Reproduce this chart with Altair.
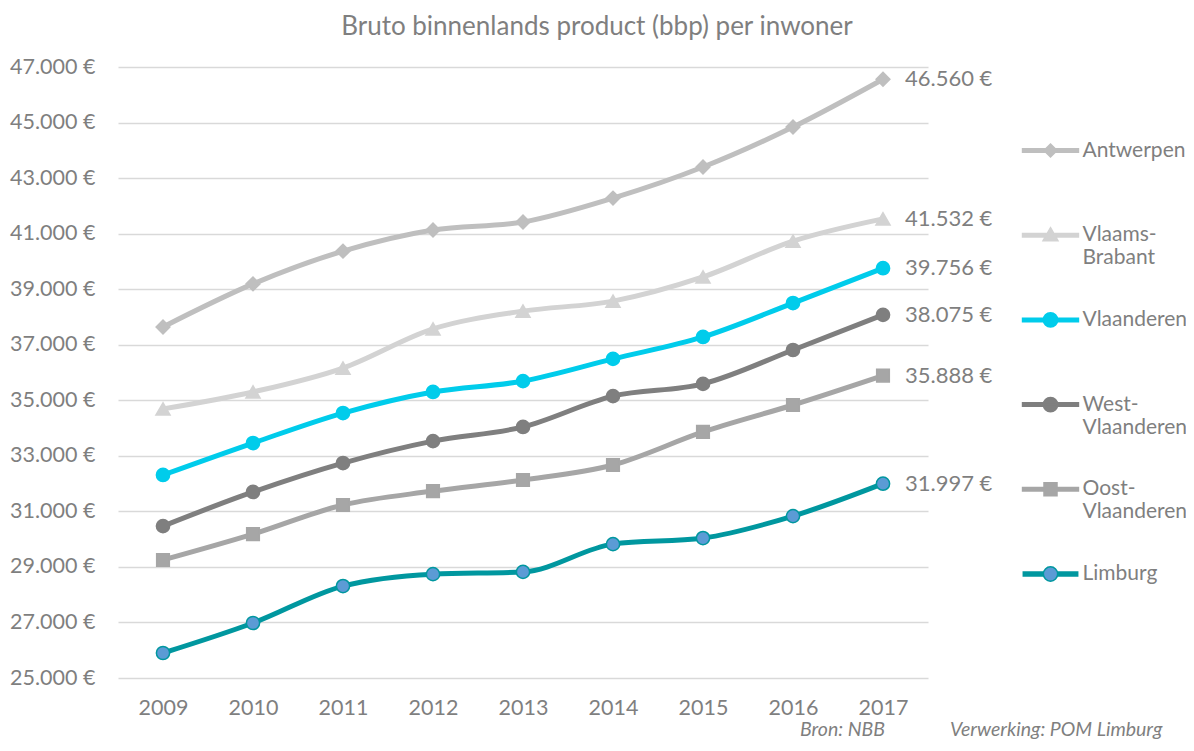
import altair as alt
import pandas as pd

years = ["2009", "2010", "2011", "2012", "2013", "2014", "2015", "2016", "2017"]
series = ["Antwerpen", "Vlaams-Brabant", "Vlaanderen", "West-Vlaanderen", "Oost-Vlaanderen", "Limburg"]

antwerpen = [37640, 39190, 40370, 41130, 41420, 42280, 43400, 44840, 46560]
vlaams_brabant = [34690, 35300, 36160, 37570, 38210, 38570, 39440, 40730, 41532]
vlaanderen = [32310, 33460, 34540, 35300, 35690, 36490, 37280, 38500, 39756]
west_vlaanderen = [30470, 31700, 32740, 33530, 34040, 35150, 35590, 36810, 38075]
oost_vlaanderen = [29250, 30180, 31230, 31730, 32130, 32670, 33860, 34830, 35888]
limburg = [25900, 26980, 28310, 28740, 28820, 29820, 30040, 30830, 31997]

y_ticks = [25000, 27000, 29000, 31000, 33000, 35000, 37000, 39000, 41000, 43000, 45000, 47000]

line_colors = ["#BFBFBF", "#D3D3D3", "#00CCEB", "#7F7F7F", "#A6A6A6", "#00979F"]
fill_colors = ["#BFBFBF", "#D3D3D3", "#00CCEB", "#7F7F7F", "#A6A6A6", "#5B9BD5"]

title_text = "Bruto binnenlands product (bbp) per inwoner"
source_text = "Bron: NBB"
processing_text = "Verwerking: POM Limburg"

values = [antwerpen, vlaams_brabant, vlaanderen, west_vlaanderen, oost_vlaanderen, limburg]
rows = []
for name, vals in zip(series, values):
    for yr, v in zip(years, vals):
        rows.append({"series": name, "year": yr, "value": v})
df = pd.DataFrame(rows)

TEXT = "#7F7F7F"
FONT = "Lato"

# legend symbols: line segment + marker (unit box -1..1 = 6.5px)
bar = "M-4.3,-0.27H4.3V0.27H-4.3Z"
diamond = bar + " M0,-1.0L1.0,0L0,1.0L-1.0,0Z"
triangle = bar + " M0,-1.15L1.15,0.85L-1.15,0.85Z"
circle = bar + " M1.1,0A1.1,1.1 0 1,1 -1.1,0A1.1,1.1 0 1,1 1.1,0Z"
square = bar + " M-1.0,-1.0H1.0V1.0H-1.0Z"
stacked = " ".join(
    f"M-4.3,{y}H-1.1 M1.1,{y}H4.3" for y in (-0.3, -0.15, 0, 0.15, 0.3)
)
circle_limburg = stacked + " M1.1,0A1.1,1.1 0 1,1 -1.1,0A1.1,1.1 0 1,1 1.1,0Z"
legend_paths = [diamond, triangle, circle, circle, square, circle_limburg]

stroke_scale = alt.Scale(domain=series, range=line_colors)
fill_scale = alt.Scale(domain=series, range=fill_colors)
shape_scale = alt.Scale(domain=series, range=legend_paths)

label_expr = (
    "indexof(datum.label, '-') > 0 ? "
    "[slice(datum.label, 0, indexof(datum.label, '-') + 1), slice(datum.label, indexof(datum.label, '-') + 1), '']"
    " : [datum.label, '', '']"
)

leg = alt.Legend(
    title=None, orient="none", legendX=922, legendY=73, padding=0,
    symbolSize=169, labelOffset=21.5, labelFontSize=21, labelFont=FONT,
    labelColor=TEXT, labelExpr=label_expr, rowPadding=16.7,
    symbolStrokeWidth=1.5, symbolOpacity=1, labelLimit=300, labelBaseline="middle",
)

x_enc = alt.X(
    "year:O", scale=alt.Scale(type="point", padding=0.5),
    axis=alt.Axis(title=None, labelAngle=0, labelPadding=19, grid=False),
)
y_enc = alt.Y(
    "value:Q", scale=alt.Scale(domain=[25000, 47000], nice=False, zero=False),
    axis=alt.Axis(
        title=None, values=y_ticks, labelPadding=23, grid=True,
        labelExpr="replace(format(datum.value, ',.0f'), ',', '.') + ' €'",
    ),
)

base = alt.Chart(df).encode(x=x_enc, y=y_enc)

# legend-only layer: no rows drawn, explicit scale domains give the entries
legend_layer = base.transform_filter("false").mark_point(
    filled=True, opacity=1, strokeWidth=1.5
).encode(
    fill=alt.Fill("series:N", scale=fill_scale, legend=leg),
    stroke=alt.Stroke("series:N", scale=stroke_scale, legend=leg),
    shape=alt.Shape("series:N", scale=shape_scale, legend=leg),
)

lines = base.mark_line(interpolate="monotone", strokeWidth=5).encode(
    stroke=alt.Stroke("series:N", scale=stroke_scale),
)


def pts(shape, names, size):
    return base.transform_filter(
        alt.FieldOneOfPredicate(field="series", oneOf=names)
    ).mark_point(filled=True, shape=shape, size=size, strokeWidth=1.5, opacity=1).encode(
        fill=alt.Fill("series:N", scale=fill_scale),
        stroke=alt.Stroke("series:N", scale=stroke_scale),
    )


p_diamond = pts("diamond", ["Antwerpen"], 190)
p_triangle = pts("triangle-up", ["Vlaams-Brabant"], 200)
p_square = pts("square", ["Oost-Vlaanderen"], 160)
p_circle = pts("circle", ["Vlaanderen", "West-Vlaanderen", "Limburg"], 175)

end_labels = base.transform_filter(alt.datum.year == years[-1]).transform_calculate(
    lbl="replace(format(datum.value, ',.0f'), ',', '.') + ' €'"
).mark_text(align="left", baseline="middle", dx=22, fontSize=22, font=FONT, color=TEXT).encode(
    text="lbl:N"
)

footer1 = alt.Chart(pd.DataFrame({"t": [source_text]})).mark_text(
    align="left", baseline="alphabetic", fontSize=19.5, font=FONT, fontStyle="italic", color=TEXT
).encode(x=alt.value(682), y=alt.value(669), text="t:N")
footer2 = alt.Chart(pd.DataFrame({"t": [processing_text]})).mark_text(
    align="left", baseline="alphabetic", fontSize=19.5, font=FONT, fontStyle="italic", color=TEXT
).encode(x=alt.value(832), y=alt.value(669), text="t:N")

chart = alt.layer(
    legend_layer, lines, p_diamond, p_triangle, p_square, p_circle, end_labels, footer1, footer2
).properties(
    width=810, height=611,
    autosize=alt.AutoSizeParams(type="none"),
    padding={"left": 110, "top": 59, "right": 258, "bottom": 65},
    title=alt.Title(
        title_text, fontSize=26, font=FONT, color=TEXT, fontWeight="normal",
        anchor="middle", dx=74, offset=16,
    ),
).configure_view(stroke=None).configure_axis(
    labelFont=FONT, labelFontSize=21.5, labelColor=TEXT, domain=False, ticks=False,
    gridColor="#D9D9D9", gridWidth=1.5,
)

chart.save("out.html", embed_options={"renderer": "svg", "actions": False})
